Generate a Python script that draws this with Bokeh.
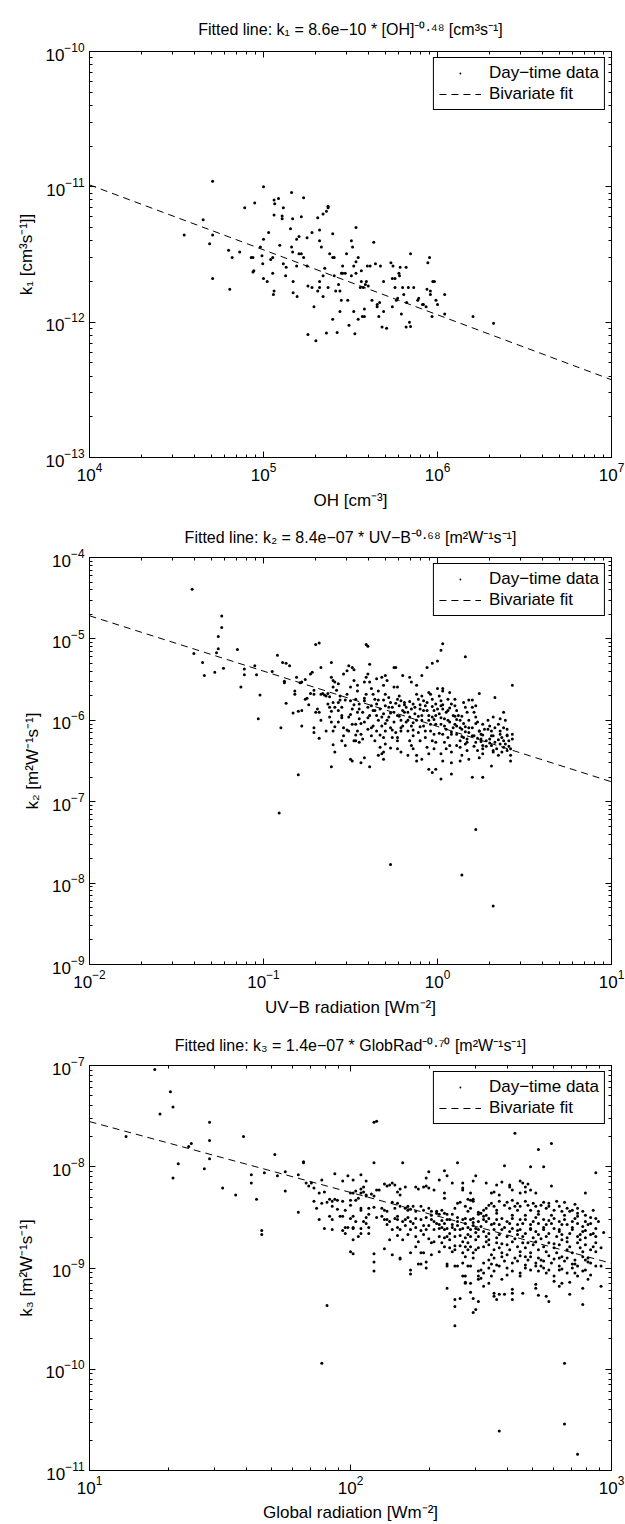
from bokeh.plotting import figure
from bokeh.models import LogAxis, LogTicker, Legend, LegendItem, CustomJSTickFormatter
from bokeh.layouts import column
from bokeh.embed import file_html
from bokeh.resources import INLINE

FONT = "Liberation Sans"

# ---------------- Panel 1: OH vs k1 ----------------
oh = [3.5e4, 4.5e4, 5.1e4, 5.1e4, 4.9e4, 5.1e4, 6.3e4, 6.6e4, 6.4e4, 7.3e4,
      7.8e4, 8.9e4, 8.5e4, 8.7e4, 8.8e4, 8.7e4, 9.6e4, 9.8e4, 9.9e4, 1.0e5,
      1.05e5, 1.0e5, 1.0e5, 1.07e5, 1.1e5, 1.13e5, 1.13e5, 1.14e5, 1.15e5, 1.15e5,
      1.16e5, 1.15e5, 1.22e5, 1.24e5, 1.3e5, 1.28e5, 1.28e5, 1.3e5, 1.35e5, 1.34e5,
      1.45e5, 1.43e5, 1.45e5, 1.47e5, 1.47e5, 1.48e5, 1.48e5, 1.55e5, 1.56e5, 1.55e5,
      1.6e5, 1.6e5, 1.65e5, 1.7e5, 1.65e5, 1.7e5, 1.78e5, 1.78e5, 1.8e5, 1.8e5,
      1.9e5, 1.95e5, 1.9e5, 2.0e5, 2.05e5, 2.05e5, 2.1e5, 2.1e5, 2.1e5, 2.1e5,
      2.15e5, 2.2e5, 2.2e5, 2.2e5, 2.25e5, 2.3e5, 2.3e5, 2.35e5, 2.35e5, 2.35e5,
      2.4e5, 2.5e5, 2.5e5, 2.5e5, 2.55e5, 2.55e5, 2.6e5, 2.65e5, 2.7e5, 2.75e5,
      2.8e5, 2.75e5, 2.8e5, 2.85e5, 2.85e5, 2.95e5, 3.0e5, 3.05e5, 3.1e5, 3.2e5,
      3.2e5, 3.25e5, 3.3e5, 3.3e5, 3.35e5, 3.4e5, 3.4e5, 3.4e5, 3.5e5, 3.5e5,
      3.6e5, 3.65e5, 3.65e5, 3.7e5, 3.75e5, 3.8e5, 3.8e5, 3.85e5, 3.9e5, 3.95e5,
      4.0e5, 4.1e5, 4.2e5, 4.3e5, 4.4e5, 4.5e5, 4.5e5, 4.6e5, 4.65e5, 4.7e5,
      4.8e5, 4.9e5, 4.9e5, 5.1e5, 5.4e5, 5.5e5, 5.5e5, 5.55e5, 5.7e5, 5.7e5,
      5.8e5, 5.9e5, 6.0e5, 6.05e5, 6.1e5, 6.2e5, 6.3e5, 6.4e5, 6.6e5, 6.6e5,
      6.65e5, 6.8e5, 6.9e5, 7.0e5, 7.0e5, 7.3e5, 7.7e5, 7.8e5, 8.2e5, 8.3e5,
      8.6e5, 8.7e5, 8.8e5, 9.0e5, 9.1e5, 9.1e5, 9.3e5, 9.4e5, 9.6e5, 9.8e5,
      1.0e6, 1.1e6, 1.1e6, 1.6e6, 2.1e6]
# k1 in units of 1e-12 cm3 s-1
k1_e12 = [4.4, 5.7, 11, 4.4, 3.8, 2.1, 3.4, 3.0, 1.75, 3.3,
          7.0, 7.6, 3.0, 3.0, 2.4, 2.35, 3.6, 3.1, 2.7, 2.1,
          2.0, 4.1, 10, 4.6, 2.9, 3.0, 2.3, 1.6, 1.7, 8.0,
          7.5, 6.2, 8.2, 3.7, 7.0, 6.1, 5.8, 2.7, 2.55, 2.2,
          9.1, 4.9, 3.6, 3.3, 5.8, 2.0, 1.65, 2.6, 1.55, 4.1,
          4.3, 3.2, 6.0, 8.3, 3.2, 3.0, 4.2, 2.6, 1.85, 0.81,
          4.6, 1.3, 1.8, 0.73, 1.7, 5.9, 4.8, 1.8, 2.0, 4.0,
          3.6, 2.2, 1.55, 6.3, 2.5, 0.83, 6.6, 7.0, 7.2, 1.8,
          3.2, 1.05, 4.5, 3.0, 3.0, 2.2, 1.7, 0.84, 1.9, 1.7,
          2.3, 1.2, 1.45, 2.3, 2.6, 2.3, 3.2, 1.45, 0.95, 4.0,
          2.2, 3.6, 2.6, 1.2, 0.82, 5.0, 2.8, 2.3, 3.0, 1.05,
          1.8, 2.0, 2.4, 1.1, 1.8, 1.1, 1.25, 1.9, 2.0, 2.6,
          1.85, 2.6, 1.45, 3.9, 2.7, 1.35, 1.3, 1.1, 1.4, 2.6,
          0.92, 1.2, 2.0, 0.90, 2.75, 1.3, 2.1, 2.6, 2.1, 1.8,
          1.45, 1.5, 2.3, 2.2, 2.55, 1.15, 1.8, 1.6, 0.92, 2.55,
          1.4, 1.8, 1.0, 0.93, 3.2, 1.8, 1.45, 1.5, 1.35, 1.35,
          1.3, 1.75, 2.75, 3.0, 1.6, 1.7, 1.1, 2.0, 2.0, 1.45,
          1.35, 1.6, 1.15, 1.1, 0.98]
fit1_a, fit1_b = 8.6e-10, -0.48

# ---------------- Panel 2: UV-B vs k2 (log10 values) ----------------
uvb_log10 = [
    -1.41, -1.40, -1.35, -1.34, -1.28, -1.27, -1.26, -1.26, -1.24, -1.24, -1.23, -1.15, -1.13, -1.11, -1.11, -1.05, -1.04, -1.03, -1.02, -0.95, -0.91, -0.27, 0.14, 0.32, 0.22,
    -0.92, -0.89, -0.87, -0.88, -0.88, -0.87, -0.90, -0.82, -0.82, -0.83, -0.85, -0.80, -0.81, -0.79, -0.78, -0.80, -0.78, -0.78, -0.76, -0.76, -0.75, -0.74, -0.73, -0.72, -0.73, -0.71, -0.71, -0.70, -0.68, -0.71, -0.71, -0.69, -0.68, -0.68, -0.67, -0.67, -0.70,
    -0.67, -0.66, -0.65, -0.64, -0.63, -0.63, -0.62, -0.62, -0.61, -0.60, -0.61, -0.60, -0.59, -0.61, -0.61, -0.60, -0.59, -0.60, -0.58, -0.60, -0.59, -0.64,
    -0.57, -0.56, -0.56, -0.57, -0.55, -0.55, -0.57, -0.54, -0.54, -0.55, -0.53, -0.52, -0.54, -0.51, -0.49, -0.48, -0.50, -0.52, -0.50, -0.49, -0.51, -0.49, -0.50, -0.49, -0.51, -0.48,
    -0.48, -0.46, -0.46, -0.47, -0.45, -0.46, -0.45, -0.47, -0.46, -0.44, -0.47, -0.45, -0.44, -0.42, -0.42, -0.41, -0.40, -0.39, -0.39, -0.41, -0.42, -0.40, -0.43, -0.39, -0.42, -0.40, -0.43, -0.39, -0.41, -0.40,
    -0.38, -0.37, -0.36, -0.35, -0.37, -0.35, -0.34, -0.37, -0.35, -0.38, -0.36, -0.33, -0.34, -0.32, -0.31, -0.35, -0.32, -0.30, -0.29, -0.31, -0.34, -0.30, -0.31, -0.30, -0.33, -0.31, -0.29, -0.32, -0.30, -0.31, -0.30, -0.31,
    -0.28, -0.27, -0.26, -0.25, -0.28, -0.25, -0.27, -0.24, -0.26, -0.23, -0.23, -0.27, -0.25, -0.24, -0.25, -0.23, -0.22, -0.21, -0.22, -0.20, -0.23, -0.21, -0.20, -0.21, -0.23, -0.20, -0.21,
    -0.19, -0.18, -0.17, -0.16, -0.18, -0.15, -0.17, -0.14, -0.16, -0.15, -0.12, -0.12, -0.17, -0.16, -0.15, -0.12, -0.12, -0.11, -0.14, -0.10, -0.13, -0.12, -0.10, -0.11, -0.10, -0.14, -0.09, -0.06, -0.03, 0.00, 0.02, 0.03,
    -0.09, -0.08, -0.07, -0.06, -0.09, -0.05, -0.08, -0.04, -0.07, -0.03, -0.06, -0.02, -0.05, -0.09, -0.05, -0.03, -0.01, -0.05, -0.04, -0.03, -0.01, -0.02, -0.01, -0.03, -0.01, -0.02, -0.01, 0.00, 0.02,
    0.01, 0.02, 0.02, 0.03, 0.01, 0.04, 0.02, 0.05, 0.03, 0.06, 0.04, 0.07, 0.05, 0.08, 0.02, 0.03, 0.08, 0.08, 0.03, 0.03, 0.07, 0.06, 0.08, 0.06, 0.09, 0.07, 0.09, 0.08,
    0.10, 0.11, 0.12, 0.13, 0.11, 0.14, 0.11, 0.15, 0.13, 0.16, 0.13, 0.17, 0.14, 0.18, 0.11, 0.10, 0.15, 0.18, 0.16, 0.17, 0.14, 0.18, 0.16, 0.18, 0.17, 0.16, 0.13, 0.20,
    0.20, 0.21, 0.22, 0.23, 0.20, 0.24, 0.21, 0.25, 0.22, 0.26, 0.23, 0.26, 0.24, 0.20, 0.24, 0.22, 0.26, 0.27, 0.25, 0.28, 0.26, 0.26,
    0.29, 0.30, 0.31, 0.32, 0.30, 0.33, 0.31, 0.34, 0.32, 0.35, 0.36, 0.37, 0.36, 0.38, 0.31, 0.33, 0.32, 0.38, 0.36, 0.38, 0.35,
    0.39, 0.40, 0.40, 0.41, 0.39, 0.42, 0.40, 0.43, 0.43, 0.42, 0.42, 0.43,
    -0.62, -0.61, -0.59, -0.57, -0.55, -0.53, -0.52, -0.50, -0.48, -0.47, -0.45, -0.44, -0.42, -0.40, -0.38, -0.38, -0.36, -0.34, -0.33, -0.32, -0.30, -0.28, -0.27, -0.26, -0.24,
    -0.23, -0.22, -0.21, -0.19, -0.19, -0.17, -0.16, -0.15, -0.14, -0.14, -0.13, -0.11, -0.10, -0.09, -0.08, -0.07, -0.06, -0.05, -0.04, -0.03, -0.02, 0.00, 0.01, 0.02, 0.03, 0.04, 0.05, 0.06, 0.07, 0.08, 0.10, 0.10,
    0.11, 0.13, 0.14, 0.15, 0.16, 0.17, 0.18, 0.20, 0.21, 0.22, 0.23, 0.24, 0.25, 0.26, 0.28, 0.29, 0.30, 0.31, 0.32, 0.33, 0.35, 0.36, 0.37, 0.38, 0.40, 0.41,
]
k2_log10 = [
    -4.39, -5.18, -5.29, -5.45, -5.41, -5.17, -5.12, -4.97, -4.72, -4.86, -5.36, -5.13, -5.59, -5.37, -5.44, -5.33, -5.44, -5.98, -5.69, -5.40, -7.14, -7.77, -7.90, -8.28, -7.34,
    -5.20, -5.29, -5.30, -5.52, -5.54, -5.79, -6.09, -5.64, -5.68, -5.91, -5.33, -6.67, -5.47, -5.54, -5.53, -5.89, -5.88, -6.07, -5.50, -5.74, -5.73, -5.81, -5.43, -5.41, -5.67, -5.68, -5.63, -5.07, -5.05, -6.09, -6.15, -5.86, -5.90, -6.22, -5.35, -6.00, -5.90,
    -5.68, -5.67, -5.69, -5.70, -5.67, -5.80, -5.84, -5.96, -6.02, -6.13, -6.57, -6.30, -6.39, -5.29, -5.47, -5.51, -5.53, -5.59, -5.63, -5.78, -5.84, -6.13,
    -5.55, -5.70, -5.75, -5.88, -5.84, -5.94, -6.02, -6.09, -6.19, -6.25, -6.31, -5.39, -5.43, -5.33, -5.35, -5.38, -5.59, -5.68, -5.76, -5.86, -5.96, -6.05, -6.48, -6.50, -6.13, -6.25,
    -5.51, -5.57, -5.64, -5.74, -5.80, -5.90, -5.98, -6.05, -6.13, -6.17, -6.25, -6.27, -6.52, -6.46, -5.53, -5.47, -5.43, -5.31, -5.53, -5.68, -5.76, -5.84, -5.90, -5.94, -6.02, -6.11, -6.23, -6.57, -5.07, -5.09,
    -5.61, -5.68, -5.74, -5.80, -5.88, -5.94, -6.00, -6.07, -6.13, -6.19, -6.25, -6.33, -6.43, -6.41, -6.39, -5.49, -5.47, -5.45, -5.51, -5.57, -5.64, -5.68, -5.75, -5.82, -5.86, -5.92, -6.00, -6.07, -6.13, -6.21, -6.29, -6.48,
    -5.72, -5.78, -5.84, -5.90, -5.96, -6.02, -6.09, -6.15, -6.21, -6.25, -6.35, -6.34, -5.35, -5.35, -5.59, -5.59, -5.70, -5.76, -5.82, -5.88, -5.94, -6.00, -6.07, -6.13, -6.21, -5.45, -6.39,
    -5.78, -5.84, -5.90, -5.96, -6.02, -6.07, -6.13, -6.19, -6.25, -6.31, -6.43, -6.50, -6.43, -5.47, -5.53, -5.57, -5.68, -5.74, -5.80, -5.86, -5.92, -6.00, -6.08, -6.15, -6.25, -6.35, -5.45, -5.35, -5.30, -5.27, -5.14, -5.06,
    -5.70, -5.76, -5.82, -5.88, -5.94, -6.00, -6.07, -6.13, -6.21, -6.25, -6.33, -6.35, -6.41, -6.48, -6.60, -6.64, -6.60, -5.66, -5.68, -5.74, -5.80, -5.88, -5.94, -5.96, -6.05, -6.17, -6.27, -5.61, -6.72,
    -5.70, -5.76, -5.82, -5.86, -5.92, -5.98, -6.05, -6.11, -6.17, -6.21, -6.27, -6.31, -6.35, -6.39, -6.41, -6.50, -6.52, -6.66, -5.64, -5.61, -5.66, -5.74, -5.80, -5.88, -5.94, -6.02, -6.09, -6.17,
    -5.82, -5.88, -5.94, -6.00, -6.07, -6.11, -6.17, -6.21, -6.25, -6.29, -6.33, -6.37, -6.43, -6.48, -6.31, -5.74, -5.78, -5.75, -5.84, -5.90, -5.95, -6.00, -6.08, -6.15, -6.23, -5.22, -6.50, -6.70,
    -5.84, -5.90, -5.96, -6.02, -6.09, -6.13, -6.19, -6.23, -6.27, -6.31, -6.37, -6.41, -6.46, -5.75, -5.67, -5.82, -6.05, -6.11, -6.17, -6.25, -6.70, -6.35,
    -6.00, -6.07, -6.13, -6.19, -6.23, -6.27, -6.31, -6.35, -6.39, -6.05, -6.13, -6.21, -6.29, -6.33, -6.56, -5.72, -5.96, -5.90, -5.98, -6.09, -6.43,
    -6.00, -6.11, -6.19, -6.25, -6.29, -6.35, -6.37, -6.17, -6.23, -6.43, -6.50, -5.57,
    -5.71, -5.89, -6.08, -5.78, -5.97, -5.75, -6.12, -5.93, -5.81, -6.18, -5.86, -6.04, -5.73, -5.97, -5.82, -6.09, -5.88, -5.75, -6.18, -5.96, -6.04, -5.84, -5.91, -6.12, -5.79,
    -5.74, -5.95, -6.09, -5.81, -5.90, -6.00, -5.77, -5.86, -6.03, -6.12, -5.84, -5.95, -5.81, -6.00, -5.88, -6.13, -5.78, -5.94, -6.05, -5.83, -5.99, -5.86, -6.16, -5.97, -5.81, -6.07, -5.90, -6.00, -5.85, -6.14, -5.95, -6.05,
    -5.99, -6.09, -6.20, -6.04, -6.14, -6.27, -6.09, -6.19, -6.32, -6.04, -6.22, -6.13, -6.26, -6.18, -6.32, -6.11, -6.28, -6.19, -6.37, -6.09, -6.24, -6.17, -6.39, -6.25, -6.18, -6.32,
]
fit2_a, fit2_b = 8.4e-7, -0.68

# ---------------- Panel 3: global radiation vs k3 (log10 values) ----------------
glob_log10 = [
    1.25, 1.14, 1.27, 1.31, 1.32, 1.32, 1.34, 1.38, 1.39, 1.44, 1.46, 1.46, 1.46, 1.51, 1.56, 1.59, 1.62, 1.62, 1.64, 1.66, 1.66, 1.67, 1.71, 1.72, 1.75, 1.75, 1.80, 1.80, 1.82, 1.82, 1.83, 1.84, 1.85, 1.86, 1.86, 1.88, 1.89, 1.89, 1.90, 1.91, 1.91, 1.92, 1.88, 1.90, 1.87, 1.89, 2.09, 2.10, 2.63, 2.82, 2.57, 2.82, 2.87,
    2.09, 2.20, 2.41, 1.94, 1.99, 2.04, 1.97, 2.01, 2.06, 2.36, 2.30, 2.37, 2.48, 2.47, 2.29, 2.34,
    2.05, 2.04, 2.02, 2.00, 2.01, 2.04, 2.05, 2.10, 2.11, 2.13, 2.14, 2.16, 2.15, 2.17, 2.19, 2.18, 2.19, 2.21, 2.25, 2.26, 2.28, 2.29, 2.30, 2.32, 2.36, 2.36, 2.39, 2.43, 2.43, 2.43, 2.46, 2.45, 2.46, 2.47, 2.47,
    1.92, 1.93, 1.94, 1.95, 1.93, 1.95, 1.97, 2.00, 2.00, 2.02, 2.03, 2.06, 2.06, 2.08, 2.09,
    1.98, 2.04, 2.04, 2.07, 2.07, 2.06, 2.09, 2.12, 2.13, 2.14, 2.17, 2.16, 2.18, 2.19, 2.21, 2.22, 2.22, 2.23, 2.24, 2.25, 2.27, 2.28, 2.30, 2.31, 2.33, 2.33, 2.34, 2.35, 2.36, 2.37, 2.39, 2.40, 2.41, 2.42, 2.44, 2.45, 2.46, 2.49, 2.49,
    1.93, 1.96, 1.97, 2.00, 2.01, 2.02, 2.05, 2.06, 2.10, 2.13, 2.14, 2.15, 2.17, 2.18, 2.20, 2.21, 2.22, 2.23, 2.25, 2.27, 2.29, 2.31, 2.32, 2.33, 2.35, 2.36, 2.38, 2.39, 2.41, 2.43, 2.44, 2.46, 2.47, 2.49,
    1.93, 1.97, 1.98, 1.99, 2.01, 2.01, 2.04, 2.07, 2.14, 2.16, 2.18, 2.19, 2.21, 2.23, 2.25, 2.27, 2.29, 2.30, 2.32, 2.34, 2.35, 2.36, 2.37, 2.39, 2.40, 2.41, 2.43, 2.45, 2.46, 2.47, 2.48, 2.49,
    1.98, 2.01, 2.03, 2.04, 2.07, 2.15, 2.18, 2.20, 2.22, 2.25, 2.26, 2.28, 2.30, 2.31, 2.32, 2.34, 2.36, 2.37, 2.38, 2.40, 2.42, 2.43, 2.44, 2.45, 2.46, 2.48, 2.49,
    2.00, 2.01, 2.09, 2.13, 2.16, 2.19, 2.19, 2.23, 2.25, 2.27, 2.28, 2.31, 2.34, 2.36, 2.38, 2.39, 2.40, 2.42, 2.43, 2.44, 2.45, 2.46, 2.47, 2.48, 2.49,
    2.09, 2.09, 2.23, 2.23, 2.26, 2.27, 2.29, 2.29, 2.37, 2.37, 2.40, 2.41, 2.43, 2.45, 2.46, 2.43, 2.44, 2.49, 2.49,
    2.37, 2.40, 2.42, 2.40, 2.44, 2.44, 2.46, 2.46, 2.47, 2.47, 2.48, 2.49, 2.49, 2.40,
    2.77, 2.72, 2.59, 2.69, 2.74, 2.94, 2.77, 2.90, 2.52, 2.56, 2.58, 2.61, 2.61, 2.62, 2.65, 2.66, 2.67, 2.67, 2.65, 2.68, 2.69, 2.71, 2.54, 2.55, 2.57,
    2.51, 2.52, 2.53, 2.54, 2.55, 2.56, 2.57, 2.59, 2.60, 2.61, 2.62, 2.64, 2.64, 2.65, 2.67, 2.68, 2.69, 2.70, 2.71, 2.72, 2.73, 2.74, 2.75, 2.76, 2.78, 2.79, 2.80, 2.81, 2.82, 2.83, 2.84, 2.85, 2.87, 2.87, 2.89, 2.90, 2.93, 2.94, 2.50, 2.52,
    2.51, 2.52, 2.53, 2.55, 2.56, 2.57, 2.58, 2.60, 2.61, 2.62, 2.64, 2.65, 2.66, 2.67, 2.69, 2.70, 2.71, 2.72, 2.74, 2.75, 2.76, 2.77, 2.78, 2.80, 2.81, 2.82, 2.83, 2.85, 2.86, 2.87, 2.89, 2.90, 2.91, 2.92, 2.94, 2.95, 2.50,
    2.51, 2.52, 2.53, 2.55, 2.56, 2.57, 2.58, 2.60, 2.61, 2.62, 2.64, 2.65, 2.66, 2.67, 2.69, 2.70, 2.71, 2.72, 2.74, 2.75, 2.76, 2.78, 2.79, 2.80, 2.81, 2.83, 2.84, 2.85, 2.87, 2.88, 2.89, 2.90, 2.92, 2.93, 2.94, 2.97,
    2.51, 2.52, 2.53, 2.55, 2.56, 2.57, 2.58, 2.60, 2.61, 2.62, 2.64, 2.65, 2.66, 2.67, 2.69, 2.70, 2.71, 2.72, 2.74, 2.75, 2.76, 2.78, 2.79, 2.80, 2.81, 2.83, 2.84, 2.85, 2.87, 2.88, 2.89, 2.90, 2.92, 2.93, 2.94, 2.96,
    2.51, 2.53, 2.54, 2.55, 2.56, 2.58, 2.59, 2.60, 2.62, 2.63, 2.64, 2.65, 2.67, 2.68, 2.69, 2.71, 2.72, 2.73, 2.74, 2.76, 2.77, 2.78, 2.80, 2.81, 2.82, 2.83, 2.85, 2.86, 2.87, 2.89, 2.90, 2.91, 2.92, 2.94, 2.96,
    2.50, 2.51, 2.53, 2.54, 2.55, 2.57, 2.58, 2.60, 2.62, 2.65, 2.65, 2.67, 2.69, 2.71, 2.72, 2.74, 2.75, 2.76, 2.78, 2.80, 2.81, 2.83, 2.85, 2.86, 2.87, 2.89, 2.90, 2.92,
    2.51, 2.53, 2.50, 2.55, 2.55, 2.56, 2.57, 2.59, 2.62, 2.62, 2.62, 2.66, 2.71, 2.71, 2.72, 2.75, 2.76, 2.78, 2.80, 2.81, 2.84, 2.84, 2.89, 2.91, 2.96, 2.89,
    2.51, 2.54, 2.56, 2.59, 2.62, 2.64, 2.67, 2.69, 2.72, 2.74, 2.77, 2.80, 2.82, 2.85, 2.87, 2.90, 2.92, 2.53, 2.58, 2.63, 2.68, 2.73, 2.78, 2.83, 2.88, 2.94, 2.54, 2.60, 2.67, 2.73, 2.80, 2.86, 2.91, 2.63, 2.76, 2.86,
    2.31, 2.34, 2.37, 2.38, 2.41, 2.42, 2.44, 2.45, 2.47, 2.48, 2.35, 2.40, 2.44, 2.47, 2.24, 2.28, 2.18, 2.12,
]
k3_log10 = [
    -7.04, -7.70, -7.48, -7.26, -7.41, -8.11, -7.97, -7.80, -7.77, -8.02, -7.56, -7.74, -7.92, -8.21, -8.28, -7.70, -8.08, -8.16, -8.32, -8.63, -8.67, -8.06, -7.88, -8.09, -8.05, -8.24, -8.08, -8.45, -7.96, -7.95, -8.16, -8.19, -8.16, -8.34, -8.21, -8.26, -8.13, -9.94, -8.25, -9.37, -8.35, -8.49, -8.52, -8.61, -8.41, -8.36, -7.56, -7.55, -7.67, -9.94, -10.61, -10.54, -10.84,
    -7.96, -7.96, -7.96, -8.07, -8.09, -8.08, -8.14, -8.13, -8.14, -8.04, -8.05, -8.09, -8.09, -8.14, -8.11, -8.13,
    -8.20, -8.22, -8.24, -8.26, -8.26, -8.26, -8.25, -8.23, -8.23, -8.17, -8.19, -8.16, -8.18, -8.18, -8.22, -8.25, -8.28, -8.20, -8.20, -8.22, -8.20, -8.19, -8.21, -8.23, -8.26, -8.31, -8.16, -8.21, -8.23, -8.16, -8.26, -8.32, -8.33, -8.34, -8.32,
    -8.32, -8.34, -8.32, -8.33, -8.39, -8.42, -8.34, -8.33, -8.38, -8.33, -8.31, -8.29, -8.28, -8.27, -8.29,
    -8.43, -8.43, -8.41, -8.41, -8.47, -8.50, -8.40, -8.41, -8.43, -8.44, -8.41, -8.35, -8.36, -8.39, -8.41, -8.43, -8.39, -8.42, -8.39, -8.44, -8.39, -8.43, -8.41, -8.44, -8.46, -8.44, -8.47, -8.43, -8.46, -8.47, -8.47, -8.41, -8.36, -8.35, -8.39, -8.44, -8.41, -8.45, -8.47,
    -8.52, -8.49, -8.49, -8.51, -8.49, -8.54, -8.54, -8.56, -8.50, -8.52, -8.52, -8.54, -8.51, -8.49, -8.54, -8.52, -8.50, -8.54, -8.51, -8.52, -8.50, -8.52, -8.54, -8.56, -8.53, -8.56, -8.52, -8.57, -8.54, -8.52, -8.51, -8.52, -8.51, -8.54,
    -8.62, -8.63, -8.60, -8.60, -8.61, -8.60, -8.61, -8.60, -8.57, -8.62, -8.60, -8.62, -8.58, -8.62, -8.60, -8.63, -8.62, -8.58, -8.62, -8.61, -8.60, -8.62, -8.61, -8.60, -8.62, -8.58, -8.61, -8.60, -8.62, -8.58, -8.61, -8.62,
    -8.66, -8.72, -8.69, -8.66, -8.66, -8.72, -8.68, -8.72, -8.67, -8.69, -8.74, -8.67, -8.71, -8.75, -8.74, -8.69, -8.70, -8.69, -8.72, -8.69, -8.68, -8.74, -8.70, -8.75, -8.69, -8.72, -8.69,
    -8.84, -8.86, -8.86, -8.81, -8.87, -8.91, -8.90, -8.85, -8.79, -8.85, -8.85, -8.87, -8.84, -8.79, -8.80, -8.84, -8.82, -8.78, -8.85, -8.89, -8.82, -8.79, -8.85, -8.82, -8.80,
    -8.94, -9.03, -9.02, -9.06, -8.96, -8.96, -8.94, -9.00, -8.96, -8.98, -8.98, -8.98, -8.95, -8.98, -8.98, -9.08, -9.08, -9.03, -9.08,
    -9.20, -9.31, -9.30, -9.38, -9.14, -9.15, -9.15, -9.24, -9.30, -9.44, -9.41, -9.33, -9.11, -9.57,
    -7.77, -7.83, -7.99, -8.00, -8.00, -8.06, -8.19, -8.26, -8.16, -8.18, -8.15, -8.18, -8.20, -8.23, -8.14, -8.16, -8.20, -8.25, -8.26, -8.17, -8.23, -8.26, -8.26, -8.25, -8.28,
    -8.43, -8.41, -8.38, -8.36, -8.39, -8.43, -8.34, -8.38, -8.35, -8.41, -8.33, -8.36, -8.43, -8.39, -8.34, -8.38, -8.43, -8.36, -8.39, -8.44, -8.38, -8.35, -8.41, -8.36, -8.43, -8.34, -8.39, -8.44, -8.35, -8.41, -8.44, -8.43, -8.46, -8.41, -8.44, -8.48, -8.43, -8.51, -8.46, -8.48,
    -8.52, -8.54, -8.51, -8.56, -8.52, -8.57, -8.51, -8.54, -8.56, -8.51, -8.57, -8.52, -8.56, -8.52, -8.57, -8.54, -8.50, -8.56, -8.52, -8.57, -8.53, -8.56, -8.51, -8.54, -8.57, -8.52, -8.57, -8.54, -8.51, -8.56, -8.59, -8.54, -8.57, -8.56, -8.61, -8.54, -8.59,
    -8.64, -8.69, -8.66, -8.62, -8.70, -8.67, -8.62, -8.69, -8.64, -8.61, -8.67, -8.62, -8.69, -8.66, -8.62, -8.70, -8.64, -8.67, -8.62, -8.69, -8.66, -8.61, -8.69, -8.64, -8.67, -8.70, -8.66, -8.62, -8.69, -8.67, -8.64, -8.70, -8.67, -8.66, -8.69, -8.65,
    -8.79, -8.74, -8.77, -8.82, -8.75, -8.80, -8.85, -8.77, -8.82, -8.74, -8.79, -8.84, -8.75, -8.80, -8.85, -8.77, -8.74, -8.82, -8.79, -8.84, -8.75, -8.80, -8.85, -8.77, -8.72, -8.82, -8.79, -8.85, -8.75, -8.80, -8.84, -8.77, -8.82, -8.79, -8.84, -8.80,
    -8.95, -8.92, -8.87, -8.90, -8.97, -8.89, -8.93, -8.87, -8.95, -8.90, -8.93, -8.88, -8.97, -8.92, -8.89, -8.95, -8.90, -8.98, -8.93, -8.88, -8.95, -8.91, -8.98, -8.89, -8.93, -8.90, -8.96, -8.92, -8.98, -8.89, -8.92, -8.90, -8.95, -8.98, -8.98,
    -9.02, -9.05, -9.00, -9.08, -9.03, -8.98, -9.11, -9.07, -9.03, -9.08, -9.05, -9.00, -9.02, -8.98, -9.03, -9.00, -9.05, -9.02, -9.08, -9.02, -9.01, -9.05, -9.00, -9.05, -9.08, -9.03, -9.02, -9.07,
    -9.18, -9.15, -9.10, -9.25, -9.28, -9.31, -9.26, -9.26, -9.21, -9.25, -9.31, -9.25, -9.16, -9.20, -9.27, -9.28, -9.33, -9.13, -9.18, -9.15, -9.14, -9.26, -9.20, -9.11, -9.18, -9.36,
    -8.49, -8.57, -8.46, -8.60, -8.48, -8.63, -8.48, -8.61, -8.47, -8.60, -8.48, -8.62, -8.48, -8.60, -8.49, -8.63, -8.50, -8.72, -8.76, -8.71, -8.75, -8.71, -8.76, -8.74, -8.72, -8.75, -8.96, -9.00, -8.89, -8.92, -8.90, -8.96, -8.94, -8.39, -8.39, -8.37,
    -8.48, -8.57, -8.52, -8.66, -8.50, -8.62, -8.56, -8.67, -8.55, -8.65, -8.75, -8.78, -8.79, -8.90, -8.56, -8.58, -8.52, -8.49,
]
fit3_a, fit3_b = 1.4e-7, -0.70

assert len(oh) == len(k1_e12)
assert len(uvb_log10) == len(k2_log10), (len(uvb_log10), len(k2_log10))
assert len(glob_log10) == len(k3_log10), (len(glob_log10), len(k3_log10))

k1 = [v * 1e-12 for v in k1_e12]
uvb = [10 ** v for v in uvb_log10]
k2 = [10 ** v for v in k2_log10]
glob = [10 ** v for v in glob_log10]
k3 = [10 ** v for v in k3_log10]

M = "\u2212"
titles = [
    f"Fitted line: k\u2081 = 8.6e{M}10 * [OH]\u207b\u2070\u00b7\u2074\u2078 [cm\u00b3s\u207b\u00b9]",
    f"Fitted line: k\u2082 = 8.4e{M}07 * UV{M}B\u207b\u2070\u00b7\u2076\u2078 [m\u00b2W\u207b\u00b9s\u207b\u00b9]",
    f"Fitted line: k\u2083 = 1.4e{M}07 * GlobRad\u207b\u2070\u00b7\u2077\u2070 [m\u00b2W\u207b\u00b9s\u207b\u00b9]",
]
xlabels = ["OH [cm\u207b\u00b3]", f"UV{M}B radiation [Wm\u207b\u00b2]", "Global radiation [Wm\u207b\u00b2]"]
ylabels = ["k\u2081 [cm\u00b3s\u207b\u00b9]]", "k\u2082 [m\u00b2W\u207b\u00b9s\u207b\u00b9]", "k\u2083 [m\u00b2W\u207b\u00b9s\u207b\u00b9]"]


def style_axis(ax, labels=True, tick_standoff=5):
    ax.ticker = LogTicker(num_minor_ticks=10)
    ax.axis_line_color = "black"
    ax.axis_line_width = 1
    ax.major_tick_line_color = "black"
    ax.minor_tick_line_color = "black"
    ax.major_tick_in = 6
    ax.major_tick_out = 0
    ax.minor_tick_in = 3
    ax.minor_tick_out = 0
    if labels:
        ax.major_label_text_font = FONT
        ax.major_label_text_font_size = "17px"
        ax.major_label_text_color = "black"
        ax.major_label_standoff = tick_standoff
        ax.axis_label_text_font = FONT
        ax.axis_label_text_font_size = "17px"
        ax.axis_label_text_font_style = "normal"
        ax.axis_label_text_color = "black"
    else:
        ax.formatter = CustomJSTickFormatter(code="return ''")
        ax.major_label_text_font_size = "1px"
        ax.major_label_standoff = 0


FW, FH = 522, 407
LEFT, RIGHT = 89, 14


def make_panel(xs, ys, xr, yr, fa, fb, title, xlabel, ylabel,
               b_top, b_bottom, title_standoff, xlab_standoff, ylab_standoff, xtick_standoff=5):
    p = figure(x_axis_type="log", y_axis_type="log", x_range=xr, y_range=yr,
               width=LEFT + FW + RIGHT, height=b_top + FH + b_bottom,
               min_border_left=LEFT, min_border_right=RIGHT,
               min_border_top=b_top, min_border_bottom=b_bottom,
               output_backend="svg", toolbar_location=None, title=title)
    p.title.text_font = FONT
    p.title.text_font_size = "16px"
    p.title.text_font_style = "normal"
    p.title.text_color = "black"
    p.title.align = "center"
    p.title.offset = 5
    p.title.standoff = title_standoff
    p.xgrid.visible = False
    p.ygrid.visible = False
    p.outline_line_color = "black"
    p.outline_line_width = 1
    p.outline_line_alpha = 1
    p.background_fill_color = "white"
    p.border_fill_color = "white"

    style_axis(p.xaxis[0], tick_standoff=xtick_standoff)
    style_axis(p.yaxis[0])
    p.xaxis[0].axis_label = xlabel
    p.yaxis[0].axis_label = ylabel
    p.xaxis[0].axis_label_standoff = xlab_standoff
    p.yaxis[0].axis_label_standoff = ylab_standoff

    top = LogAxis()
    style_axis(top, labels=False)
    p.add_layout(top, "above")
    right = LogAxis()
    style_axis(right, labels=False)
    p.add_layout(right, "right")

    r_pts = p.scatter(xs, ys, size=12, marker="dot", line_color="black", fill_color="black")
    fx = [xr[0], xr[1]]
    fy = [fa * v ** fb for v in fx]
    r_fit = p.line(fx, fy, line_color="black", line_width=1, line_dash="7 5")

    legend = Legend(items=[LegendItem(label=f"Day{M}time data", renderers=[r_pts]),
                           LegendItem(label="Bivariate fit", renderers=[r_fit])],
                    location="top_right", margin=6, padding=5, spacing=1,
                    glyph_width=42, glyph_height=18, label_height=18, label_standoff=8,
                    label_text_font=FONT, label_text_font_size="17px", label_text_color="black",
                    border_line_color="black", border_line_width=1, border_line_alpha=1,
                    background_fill_color="white", background_fill_alpha=1)
    p.add_layout(legend)
    return p


p1 = make_panel(oh, k1, (1e4, 1e7), (1e-13, 1e-10), fit1_a, fit1_b,
                titles[0], xlabels[0], ylabels[0], 51, 54, 28, 7, 6)
p2 = make_panel(uvb, k2, (1e-2, 1e1), (1e-9, 1e-4), fit2_a, fit2_b,
                titles[1], xlabels[1], ylabels[1], 45, 56, 24, 7, 7)
p3 = make_panel(glob, k3, (9.999, 1000.1), (1e-11, 1e-7), fit3_a, fit3_b,
                titles[2], xlabels[2], ylabels[2], 45, 52, 24, 6, 6)

layout = column(p1, p2, p3)
open("out.html", "w", encoding="utf-8").write(file_html(layout, INLINE))
